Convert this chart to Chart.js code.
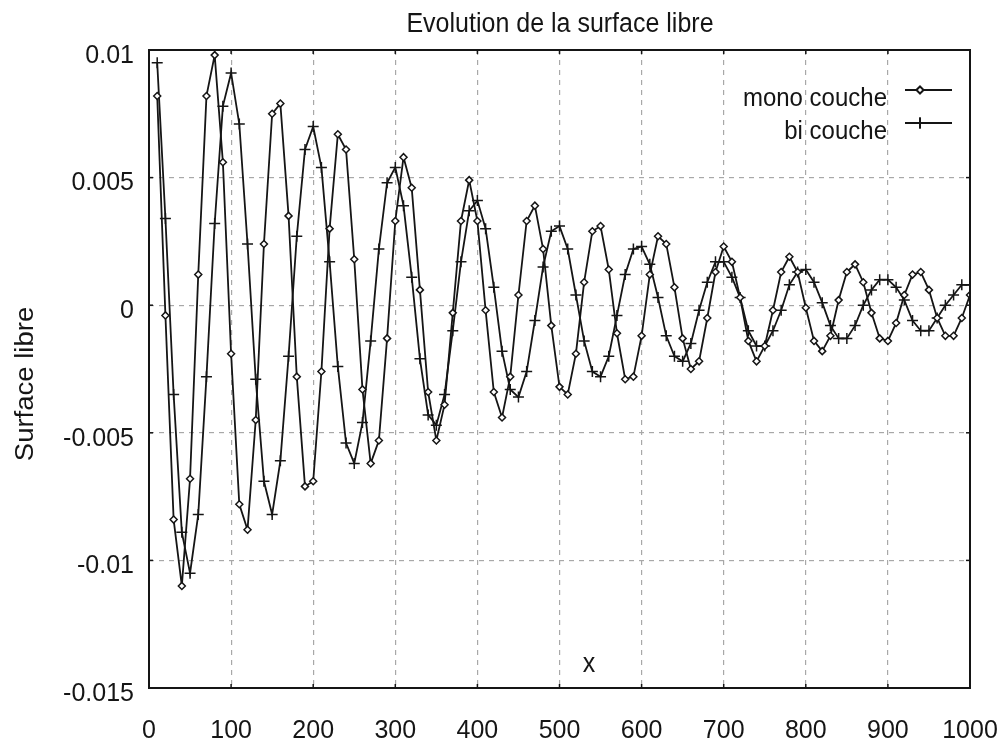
<!DOCTYPE html>
<html>
<head>
<meta charset="utf-8">
<script src="https://cdn.jsdelivr.net/npm/chart.js@4.4.1/dist/chart.umd.min.js"></script>
<style>
  html, body { margin: 0; padding: 0; background: #fff; }
  #wrap { width: 1003px; height: 744px; position: relative; }
</style>
</head>
<body>
<div id="wrap"><canvas id="chart"></canvas></div>
<script>
// x positions of the samples
const xs = [10, 20, 30, 40, 50, 60, 70, 80, 90, 100,
  110, 120, 130, 140, 150, 160, 170, 180, 190, 200,
  210, 220, 230, 240, 250, 260, 270, 280, 290, 300,
  310, 320, 330, 340, 350, 360, 370, 380, 390, 400,
  410, 420, 430, 440, 450, 460, 470, 480, 490, 500,
  510, 520, 530, 540, 550, 560, 570, 580, 590, 600,
  610, 620, 630, 640, 650, 660, 670, 680, 690, 700,
  710, 720, 730, 740, 750, 760, 770, 780, 790, 800,
  810, 820, 830, 840, 850, 860, 870, 880, 890, 900,
  910, 920, 930, 940, 950, 960, 970, 980, 990, 1000];

// "mono couche" (diamonds)
const monoCouche = [0.0082, -0.0004, -0.0084, -0.0110, -0.0068, 0.0012, 0.0082, 0.0098, 0.0056, -0.0019,
  -0.0078, -0.0088, -0.0045, 0.0024, 0.0075, 0.0079, 0.0035, -0.0028, -0.0071, -0.0069,
  -0.0026, 0.0030, 0.0067, 0.0061, 0.0018, -0.0033, -0.0062, -0.0053, -0.0013, 0.0033,
  0.0058, 0.0046, 0.0006, -0.0034, -0.0053, -0.0039, -0.0003, 0.0033, 0.0049, 0.0033,
  -0.0002, -0.0034, -0.0044, -0.0028, 0.0004, 0.0033, 0.0039, 0.0022, -0.0008, -0.0032,
  -0.0035, -0.0019, 0.0009, 0.0029, 0.0031, 0.0014, -0.0011, -0.0029, -0.0028, -0.0012,
  0.0012, 0.0027, 0.0024, 0.0007, -0.0013, -0.0025, -0.0022, -0.0005, 0.0013, 0.0023,
  0.0017, 0.0003, -0.0014, -0.0022, -0.0016, -0.0002, 0.0013, 0.0019, 0.0013, -0.0001,
  -0.0014, -0.0018, -0.0012, 0.0002, 0.0013, 0.0016, 0.0009, -0.0003, -0.0013, -0.0014,
  -0.0007, 0.0004, 0.0012, 0.0013, 0.0006, -0.0005, -0.0012, -0.0012, -0.0005, 0.0004];

// "bi couche" (crosses)
const biCouche = [0.0095, 0.0034, -0.0035, -0.0089, -0.0105, -0.0082, -0.0028, 0.0032, 0.0078, 0.0091,
  0.0071, 0.0024, -0.0029, -0.0069, -0.0082, -0.0061, -0.0020, 0.0027, 0.0061, 0.0070,
  0.0054, 0.0017, -0.0024, -0.0054, -0.0062, -0.0046, -0.0014, 0.0022, 0.0048, 0.0054,
  0.0039, 0.0011, -0.0021, -0.0043, -0.0047, -0.0035, -0.0010, 0.0017, 0.0037, 0.0041,
  0.0030, 0.0007, -0.0018, -0.0033, -0.0036, -0.0026, -0.0006, 0.0015, 0.0029, 0.0031,
  0.0022, 0.0004, -0.0014, -0.0026, -0.0028, -0.0020, -0.0004, 0.0012, 0.0022, 0.0023,
  0.0016, 0.0003, -0.0012, -0.0020, -0.0022, -0.0015, -0.0002, 0.0009, 0.0017, 0.0017,
  0.0011, 0.0003, -0.0010, -0.0016, -0.0016, -0.0010, -0.0002, 0.0008, 0.0013, 0.0014,
  0.0009, 0.0001, -0.0008, -0.0013, -0.0013, -0.0008, 0.0000, 0.0006, 0.0010, 0.0010,
  0.0007, 0.0002, -0.0006, -0.0010, -0.0010, -0.0005, 0.0000, 0.0004, 0.0008, 0.0008];

const yTickLabels = ['-0.015', '-0.01', '-0.005', '0', '0.005', '0.01'];
const seriesNames = ['mono couche', 'bi couche'];
const chartTitle = 'Evolution de la surface libre';
const yTitle = 'Surface libre';
const xTitle = 'x';

const ink = '#151515';
const FONT = '"Liberation Sans", Arial, sans-serif';

function pairs(ys) {
  return xs.map((x, i) => ({ x: x, y: ys[i] }));
}

// text a little taller than wide, like the original export
function tallText(ctx, text, x, y) {
  ctx.save();
  ctx.translate(x, y);
  ctx.scale(1, 1.1);
  ctx.fillText(text, 0, 0);
  ctx.restore();
}

// frame, inward tick marks, title, axis titles and the legend inside the plot
const decorations = {
  id: 'decorations',
  afterDatasetsDraw(chart) {
    const ctx = chart.ctx;
    const a = chart.chartArea;
    const sx = chart.scales.x, sy = chart.scales.y;
    ctx.save();

    // small inward ticks
    ctx.strokeStyle = ink;
    ctx.lineWidth = 1.5;
    sx.ticks.forEach(t => {
      const px = sx.getPixelForValue(t.value);
      ctx.beginPath(); ctx.moveTo(px, a.bottom); ctx.lineTo(px, a.bottom - 4); ctx.stroke();
      ctx.beginPath(); ctx.moveTo(px, a.top); ctx.lineTo(px, a.top + 4); ctx.stroke();
    });
    sy.ticks.forEach(t => {
      const py = sy.getPixelForValue(t.value);
      ctx.beginPath(); ctx.moveTo(a.left, py); ctx.lineTo(a.left + 4, py); ctx.stroke();
      ctx.beginPath(); ctx.moveTo(a.right, py); ctx.lineTo(a.right - 4, py); ctx.stroke();
    });

    // frame
    ctx.lineWidth = 2;
    ctx.strokeRect(a.left, a.top, a.right - a.left, a.bottom - a.top);

    // title
    ctx.fillStyle = ink;
    ctx.font = '25px ' + FONT;
    ctx.textAlign = 'center';
    ctx.textBaseline = 'alphabetic';
    tallText(ctx, chartTitle, 560, 32);

    // x title (sits inside the plot)
    tallText(ctx, xTitle, 589, 672);

    // y title
    ctx.save();
    ctx.translate(33, 384);
    ctx.rotate(-Math.PI / 2);
    ctx.scale(1.1, 1);
    ctx.textAlign = 'center';
    ctx.font = '25px ' + FONT;
    ctx.fillText(yTitle, 0, 0);
    ctx.restore();

    // legend
    const rows = [
      { text: seriesNames[0], ty: 106, ly: 90, style: 'rectRot', r: 3.5 },
      { text: seriesNames[1], ty: 139, ly: 123, style: 'cross', r: 5.5 }
    ];
    ctx.font = '24px ' + FONT;
    ctx.textAlign = 'right';
    rows.forEach(row => {
      ctx.fillStyle = ink;
      tallText(ctx, row.text, 887, row.ty);
      ctx.strokeStyle = ink;
      ctx.lineWidth = 1.8;
      ctx.beginPath(); ctx.moveTo(905, row.ly); ctx.lineTo(952, row.ly); ctx.stroke();
      ctx.fillStyle = '#fff';
      Chart.helpers.drawPoint(ctx, { pointStyle: row.style, radius: row.r, borderWidth: 1.5, rotation: 0 }, 920, row.ly);
      if (row.style !== 'cross') ctx.fill();
      ctx.stroke();
    });

    ctx.restore();
  }
};

new Chart(document.getElementById('chart'), {
  type: 'line',
  data: {
    datasets: [
      {
        label: seriesNames[0],
        data: pairs(monoCouche),
        borderColor: ink,
        borderWidth: 1.8,
        pointStyle: 'rectRot',
        pointRadius: 3.5,
        pointBackgroundColor: '#fff',
        pointBorderColor: ink,
        pointBorderWidth: 1.5,
        tension: 0
      },
      {
        label: seriesNames[1],
        data: pairs(biCouche),
        borderColor: ink,
        borderWidth: 1.8,
        pointStyle: 'cross',
        pointRadius: 5.5,
        pointBorderColor: ink,
        pointBorderWidth: 1.5,
        tension: 0
      }
    ]
  },
  options: {
    responsive: true,
    maintainAspectRatio: false,
    animation: false,
    events: [],
    layout: { padding: { top: 50, right: 33, left: 0, bottom: 0 } },
    plugins: {
      legend: { display: false },
      title: { display: false },
      tooltip: { enabled: false }
    },
    scales: {
      x: {
        type: 'linear',
        min: 0, max: 1000,
        grid: { color: '#a8a8a8', lineWidth: 1.2, tickLength: 0, drawTicks: false },
        border: { display: false, dash: [5, 5] },
        ticks: {
          stepSize: 100,
          color: ink,
          padding: 28,
          maxRotation: 0,
          font: { family: FONT, size: 25 },
          callback: v => String(v)
        },
        afterFit(scale) {
          scale.height = 56;
          scale.paddingLeft = 0;
          scale.paddingRight = 0;
        }
      },
      y: {
        min: -0.015, max: 0.01,
        grid: { color: '#a8a8a8', lineWidth: 1.2, tickLength: 0, drawTicks: false },
        border: { display: false, dash: [5, 5] },
        ticks: {
          stepSize: 0.005,
          color: ink,
          padding: 15,
          labelOffset: 6,
          font: { family: FONT, size: 25 },
          callback: (v, i) => yTickLabels[i] !== undefined ? yTickLabels[i] : String(Number(v.toFixed(3)))
        },
        afterFit(scale) {
          scale.width = 149;
          scale.paddingTop = 0;
          scale.paddingBottom = 0;
        }
      }
    }
  },
  plugins: [decorations]
});
</script>
</body>
</html>
